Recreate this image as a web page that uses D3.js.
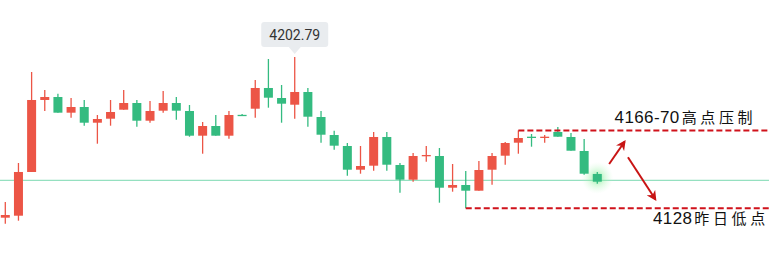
<!DOCTYPE html>
<html><head><meta charset="utf-8">
<script src="https://cdn.jsdelivr.net/npm/d3@7/dist/d3.min.js"></script>
<style>html,body{margin:0;padding:0;background:#fff;overflow:hidden}</style>
</head><body><svg id="c" width="769" height="278"></svg>
<script>
// ---- data ----
const categories = d3.range(1, 47);
const open  = [4123.36,4124.34,4145.95,4181.54,4183.02,4175.26,4178.07,4170.31,4172.29,4176.74,
               4180.05,4171.30,4176.25,4180.05,4176.10,4163.89,4168.68,4163.89,4174.20,4177.23,
               4187.47,4182.52,4179.21,4185.49,4173.13,4164.23,4158.80,4147.08,4149.06,4163.25,
               4149.41,4142.14,4154.00,4153.85,4138.18,4139.52,4136.70,4147.08,4154.00,4160.43,
               4163.40,4163.10,4165.72,4163.25,4156.33,4144.96];
const close = [4124.69,4145.95,4181.54,4183.02,4175.26,4178.07,4170.31,4172.14,4175.60,4180.05,
               4171.30,4176.10,4180.05,4176.25,4163.89,4168.68,4163.89,4174.12,4173.63,4187.47,
               4182.67,4179.71,4185.49,4173.28,4164.38,4158.95,4147.08,4148.91,4163.25,4149.55,
               4142.14,4153.85,4154.35,4138.18,4139.52,4136.70,4146.93,4153.85,4160.28,4162.75,
               4163.10,4163.40,4163.39,4156.47,4145.10,4141.15];
const high  = [4131.12,4150.39,4195.38,4186.48,4184.65,4182.52,4181.54,4174.12,4181.54,4186.48,
               4181.54,4181.04,4185.98,4183.02,4179.06,4170.66,4174.12,4176.10,4174.61,4191.42,
               4201.80,4188.95,4202.79,4187.47,4176.10,4166.36,4160.28,4158.80,4165.72,4165.72,
               4150.39,4155.34,4158.80,4157.81,4149.90,4146.44,4151.38,4155.34,4160.77,4166.50,
               4164.73,4164.23,4168.19,4165.22,4162.26,4145.95];
const low   = [4120.39,4121.87,4145.95,4176.10,4175.26,4172.79,4168.83,4159.93,4168.83,4176.74,
               4168.34,4170.31,4175.26,4171.80,4163.39,4154.99,4163.89,4162.41,4173.63,4172.79,
               4177.73,4170.31,4172.29,4168.34,4160.43,4156.97,4144.12,4145.10,4146.59,4146.59,
               4135.71,4141.15,4151.04,4130.77,4136.21,4128.00,4136.70,4139.67,4149.55,4154.99,
               4158.45,4160.43,4163.39,4156.47,4144.61,4140.16];
const refLine = 4141.84;            // light green reference line
const resistance = {value: 4166.5, from: 39, num: "4166-70", txt: "高点压制"};
const support    = {value: 4128.0, from: 35, num: "4128", txt: "昨日低点"};
// arrows in (index, price) space
const arrows = [
  {x1: 45.9, y1: 4149.9, x2: 47.07, y2: 4160.9},
  {x1: 47.33, y1: 4153.2, x2: 49.41, y2: 4132.45}
];
const labelPos = [
  {x: 46.31, y: 4170.02, s: resistance},
  {x: 49.23, y: 4120.24, s: support}
];

// ---- layout ----
const W = 769, H = 278;
const svg = d3.select("#c");
const n = categories.length;
const x = d3.scaleLinear().domain([0, 45]).range([5.3, 597.3]);
const bodyW = 9;
const y = d3.scaleLinear().domain([4128, 4202.79]).range([208.3, 57]);

const UP = "#ec5546", DOWN = "#34bb80";
const data = categories.map((c, i) => ({i, o: open[i], c: close[i], h: high[i], l: low[i]}));

const defs = svg.append("defs");
const rg = defs.append("radialGradient").attr("id", "glow");
rg.append("stop").attr("offset", "0%").attr("stop-color", "#5be07a").attr("stop-opacity", 0.75);
rg.append("stop").attr("offset", "45%").attr("stop-color", "#8ef09c").attr("stop-opacity", 0.35);
rg.append("stop").attr("offset", "100%").attr("stop-color", "#c8f7cf").attr("stop-opacity", 0);
defs.append("marker").attr("id", "ah").attr("viewBox", "0 0 10 10").attr("refX", 8).attr("refY", 5)
  .attr("markerWidth", 5).attr("markerHeight", 5).attr("orient", "auto")
  .append("path").attr("d", "M0,0 L10,5 L0,10 L3,5 Z").attr("fill", "#c81414");

// reference line
svg.append("line").attr("x1", 0).attr("x2", W).attr("y1", y(refLine)).attr("y2", y(refLine))
  .attr("stroke", "#95e0c0").attr("stroke-width", 1.2);

// glow on last candle
const last = data[n - 1];
svg.append("circle").attr("cx", x(last.i)).attr("cy", y((last.o + last.c) / 2)).attr("r", 16)
  .attr("fill", "url(#glow)");

// candles
const cg = svg.append("g").selectAll("g.k").data(data).join("g").attr("class", "k");
cg.append("line")
  .attr("x1", d => x(d.i)).attr("x2", d => x(d.i))
  .attr("y1", d => y(d.h)).attr("y2", d => y(d.l))
  .attr("stroke", d => d.c >= d.o ? UP : DOWN).attr("stroke-width", 1.3);
cg.append("rect")
  .attr("x", d => x(d.i) - bodyW / 2).attr("width", bodyW)
  .attr("y", d => y(Math.max(d.o, d.c)))
  .attr("height", d => Math.max(1.3, Math.abs(y(d.o) - y(d.c))))
  .attr("fill", d => d.c >= d.o ? UP : DOWN);

// dashed support / resistance lines
[resistance, support].forEach(s => {
  svg.append("line").attr("x1", x(s.from)).attr("x2", W)
    .attr("y1", y(s.value)).attr("y2", y(s.value))
    .attr("stroke", "#d0121b").attr("stroke-width", 2).attr("stroke-dasharray", "6,3");
});

// arrows
svg.selectAll("line.arr").data(arrows).join("line").attr("class", "arr")
  .attr("x1", d => x(d.x1)).attr("y1", d => y(d.y1))
  .attr("x2", d => x(d.x2)).attr("y2", d => y(d.y2))
  .attr("stroke", "#c81414").attr("stroke-width", 2).attr("marker-end", "url(#ah)");

// labels
const lab = svg.selectAll("text.lab").data(labelPos).join("text").attr("class", "lab")
  .attr("x", d => x(d.x)).attr("y", d => y(d.y)).attr("fill", "#111");
lab.append("tspan").attr("font-family", "'Liberation Sans', Arial, sans-serif")
  .attr("font-size", 17).attr("letter-spacing", 0.4).text(d => d.s.num);
lab.append("tspan").attr("font-family", "'Noto Sans CJK SC', sans-serif")
  .attr("font-size", 15).attr("dx", 2).attr("letter-spacing", 3.6).text(d => d.s.txt);

// max-high tooltip
const maxI = d3.maxIndex(high);
const mx = x(maxI), my = y(high[maxI]);
const tip = svg.append("g");
const bw = 67, bh = 25, by = my - 35;
tip.append("rect").attr("x", mx - bw / 2).attr("y", by).attr("width", bw).attr("height", bh)
  .attr("rx", 3).attr("fill", "#e9ecef");
tip.append("path").attr("d", `M${mx - 6},${by + bh} L${mx + 6},${by + bh} L${mx},${by + bh + 7} Z`)
  .attr("fill", "#e9ecef");
tip.append("text").attr("x", mx).attr("y", by + 18).attr("text-anchor", "middle")
  .attr("font-family", "Roboto, 'Open Sans', sans-serif").attr("font-size", 14).attr("fill", "#333")
  .text(high[maxI].toFixed(2));
</script></body></html>
